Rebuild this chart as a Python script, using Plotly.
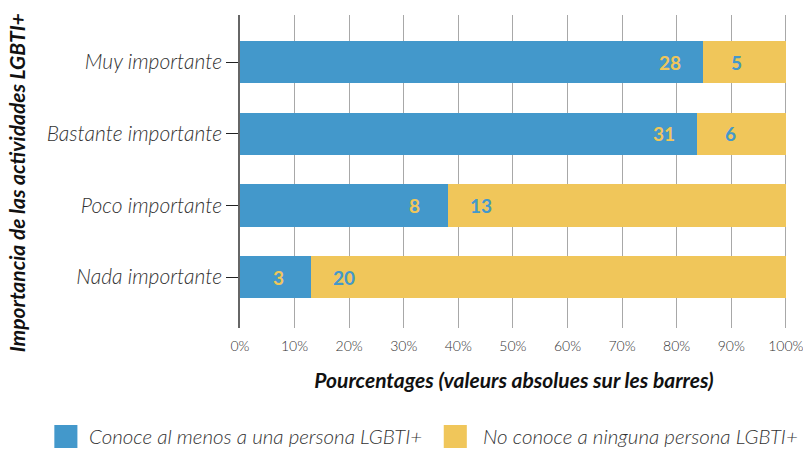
import plotly.graph_objects as go

categories = ["Muy importante", "Bastante importante", "Poco importante", "Nada importante"]
conoce = [28, 31, 8, 3]
no_conoce = [5, 6, 13, 20]
series_names = ["Conoce al menos a una persona LGBTI+", "No conoce a ninguna persona LGBTI+"]
x_ticks = [0, 10, 20, 30, 40, 50, 60, 70, 80, 90, 100]
x_tick_labels = [f"{v}%" for v in x_ticks]

BLUE = "#4398CB"
YELLOW = "#F0C65A"
FONT = "Lato"

totals = [a + b for a, b in zip(conoce, no_conoce)]
pct_a = [a / t * 100 for a, t in zip(conoce, totals)]
pct_b = [b / t * 100 for b, t in zip(no_conoce, totals)]

fig = go.Figure()
fig.add_trace(go.Bar(y=categories, x=pct_a, orientation="h", name=series_names[0],
                     marker=dict(color=BLUE, line=dict(width=0)), hoverinfo="skip"))
fig.add_trace(go.Bar(y=categories, x=pct_b, orientation="h", name=series_names[1],
                     marker=dict(color=YELLOW, line=dict(width=0)), hoverinfo="skip"))

for cat, pa, a, b in zip(categories, pct_a, conoce, no_conoce):
    fig.add_annotation(x=pa, y=cat, text=f"<b>{a}</b>", showarrow=False, xanchor="center",
                       xshift=-33, font=dict(family=FONT, size=19, color=YELLOW))
    fig.add_annotation(x=pa, y=cat, text=f"<b>{b}</b>", showarrow=False, xanchor="center",
                       xshift=33, font=dict(family=FONT, size=19, color=BLUE))

# y-axis title as annotation
fig.add_annotation(xref="paper", yref="paper", x=-0.4084, y=0.463, textangle=-90,
                   text="<b><i>Importancia de las actividades LGBTI+</i></b>", showarrow=False,
                   font=dict(family=FONT, size=21, color="#111"), xanchor="center", yanchor="middle")

# custom legend (large square swatches)
legend_colors = [BLUE, YELLOW]
legend_sw_x = [(-0.3388, -0.2967), (0.3718, 0.4139)]
legend_txt_x = [-0.2784, 0.4396]
for col, (x0, x1), tx, name in zip(legend_colors, legend_sw_x, legend_txt_x, series_names):
    fig.add_shape(type="rect", xref="paper", yref="paper", x0=x0, x1=x1, y0=-0.3834, y1=-0.3099,
                  fillcolor=col, line=dict(width=0))
    fig.add_annotation(xref="paper", yref="paper", x=tx, y=-0.3466, xanchor="left", yanchor="middle",
                       text=f"<i>{name}</i>", showarrow=False,
                       font=dict(family=FONT, size=20.5, color="#333", weight=300))

fig.update_layout(
    barmode="stack",
    bargap=0.41,
    width=803, height=450,
    margin=dict(l=240, r=15, t=15, b=122, autoexpand=False),
    plot_bgcolor="white", paper_bgcolor="white",
    font=dict(family=FONT, color="#333"),
    showlegend=False,
    hovermode=False,
    xaxis=dict(range=[0, 100.4], tickvals=x_ticks, ticktext=x_tick_labels,
               showgrid=True, gridcolor="#a8a8a8", gridwidth=1.3, zeroline=False,
               ticks="outside", ticklen=5, tickcolor="rgba(0,0,0,0)",
               ticklabeloverflow="allow",
               tickfont=dict(family=FONT, size=14, color="#333", weight=300),
               title=dict(text="<b><i>Pourcentages (valeurs absolues sur les barres)</i></b>",
                          font=dict(family=FONT, size=21, color="#111"), standoff=20),
               fixedrange=True),
    yaxis=dict(categoryorder="array", categoryarray=categories, range=[3.71, -0.656],
               showline=True, linecolor="#666", linewidth=1.5,
               ticks="outside", ticklen=12, tickcolor="#222", tickwidth=1,
               tickfont=dict(family=FONT, size=21, color="#333", weight=300),
               showgrid=False, fixedrange=True),
)

fig.update_yaxes(tickvals=categories, ticktext=[f"<i>{c}</i>" for c in categories])

fig.write_html("out.html", config={"displayModeBar": False},
               post_script="document.body.style.margin='0px';")
